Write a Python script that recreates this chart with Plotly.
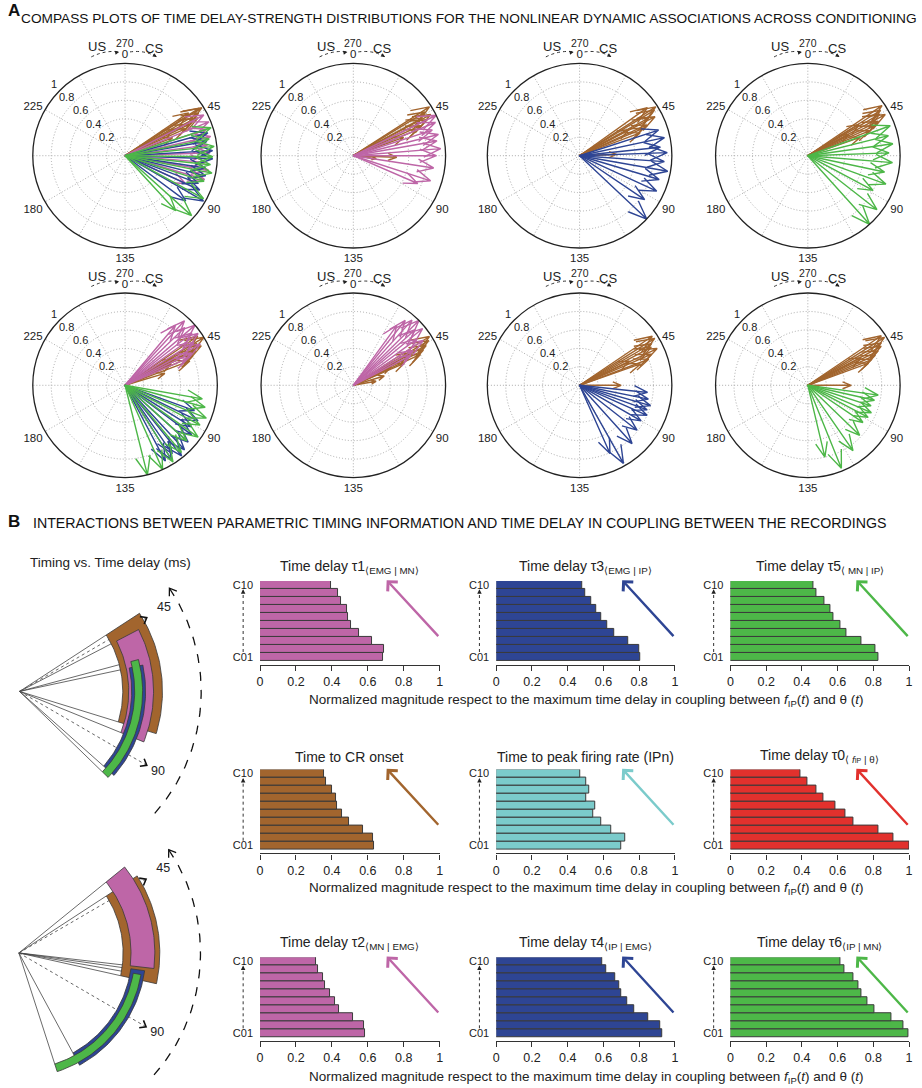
import numpy as np
import plotly.graph_objects as go

W, H = 922, 1088
FONT = "Liberation Sans, Arial, sans-serif"

BROWN = "#A2652E"
PINK = "#BE66A7"
BLUE = "#2E4594"
GREEN = "#4DB748"
CYAN = "#7BCBCB"
RED = "#E2312D"

# ---------------- A: compass plots ----------------
# angle in compass units (270 units = full turn, 0 at top, clockwise), magnitude 0..1
p1_brown_ang = [42, 43.5, 45, 46.5, 47, 48, 49.5, 43, 46, 52]
p1_brown_mag = [0.83, 0.98, 0.92, 0.86, 0.89, 0.78, 0.72, 0.95, 0.6, 0.55]
p1_pink_ang = [47, 51, 54, 58, 62, 66, 71, 75, 80, 86]
p1_pink_mag = [0.96, 0.98, 0.93, 0.95, 0.9, 0.92, 0.88, 0.92, 0.9, 0.72]
p1_blue_ang = [56, 60, 65, 69, 74, 78, 83, 86, 90, 95]
p1_blue_mag = [0.93, 0.9, 0.95, 0.95, 0.88, 0.9, 0.85, 0.89, 0.98, 0.82]
p1_green_ang = [54, 59, 63, 68, 72, 76, 81, 89, 99, 103]
p1_green_mag = [0.98, 0.93, 0.97, 0.95, 0.93, 0.96, 0.9, 0.97, 0.97, 0.81]

p2_brown_ang = [43, 44, 46.5, 48, 49.5, 51, 52.5, 46, 69, 73]
p2_brown_mag = [0.98, 0.91, 0.95, 0.89, 0.8, 0.75, 0.58, 0.85, 0.47, 0.25]
p2_pink_ang = [48, 51, 54, 57, 60, 64, 67.5, 74, 81, 85]
p2_pink_mag = [1.0, 0.96, 0.9, 0.95, 0.92, 0.95, 0.9, 0.88, 0.88, 0.76]

p3_brown_ang = [41, 43, 44, 46, 47, 49, 50, 52, 46.5, 66]
p3_brown_mag = [0.9, 0.98, 0.95, 0.85, 0.92, 0.8, 0.75, 0.7, 0.6, 0.4]
p3_blue_ang = [54, 58.5, 63, 66, 70.5, 75, 80, 86, 93, 100]
p3_blue_mag = [0.9, 0.94, 0.88, 0.95, 0.92, 0.97, 0.9, 0.92, 0.85, 1.0]

p4_brown_ang = [42, 43.5, 45, 46.5, 48, 49.5, 51, 44, 53, 47]
p4_brown_mag = [0.97, 0.93, 0.9, 0.95, 0.85, 0.8, 0.72, 0.65, 0.6, 0.5]
p4_green_ang = [52.5, 57, 61.5, 66, 71, 76.5, 82.5, 88.5, 96, 103.5]
p4_green_mag = [0.95, 0.9, 0.93, 0.88, 0.92, 0.85, 0.9, 0.8, 0.95, 1.0]

p5_brown_ang = [42, 44, 45, 47, 48, 50, 52, 46, 49, 55]
p5_brown_mag = [0.95, 1.0, 0.9, 0.93, 0.85, 0.8, 0.75, 0.6, 0.55, 0.45]
p5_pink_ang = [30, 32, 34.5, 37, 39, 41, 43.5, 46, 48, 50]
p5_pink_mag = [0.85, 0.95, 0.9, 1.0, 0.92, 0.97, 0.88, 0.93, 0.8, 0.75]
p5_blue_ang = [82.5, 87, 91.5, 95, 99, 103, 106, 109, 111, 114]
p5_blue_mag = [0.8, 0.88, 0.85, 0.9, 0.92, 0.95, 0.98, 0.9, 0.95, 0.93]
p5_green_ang = [75, 79, 84, 88.5, 94, 99, 105, 111, 117, 124.5]
p5_green_mag = [0.85, 0.9, 0.95, 0.92, 0.97, 0.9, 0.95, 0.98, 1.0, 1.0]

p6_brown_ang = [43, 44.5, 46, 47.5, 49, 45, 50, 48, 55, 60]
p6_brown_mag = [0.98, 0.95, 0.9, 0.85, 0.8, 0.7, 0.6, 0.45, 0.35, 0.25]
p6_pink_ang = [27, 29, 31.5, 34, 36, 38, 40.5, 43, 45, 47]
p6_pink_mag = [0.8, 0.9, 0.95, 1.0, 0.9, 0.97, 0.85, 0.9, 0.75, 0.7]

p7_brown_ang = [42, 43.5, 45, 46.5, 48.5, 50, 52, 53, 48, 67.5]
p7_brown_mag = [0.95, 0.96, 0.9, 0.88, 0.93, 0.85, 0.8, 0.7, 0.6, 0.45]
p7_blue_ang = [72, 76, 79.5, 82.5, 85.5, 90, 96, 103.5, 113, 117]
p7_blue_mag = [0.74, 0.76, 0.8, 0.78, 0.8, 0.77, 0.79, 0.85, 0.97, 0.81]

p8_brown_ang = [42, 43.5, 45, 46.5, 48, 49.5, 51, 52.5, 47, 67.5]
p8_brown_mag = [0.96, 0.98, 0.92, 0.9, 0.85, 0.8, 0.75, 0.7, 0.65, 0.47]
p8_green_ang = [73.5, 77, 81, 85, 88.5, 93, 100.5, 109, 118.5, 125]
p8_green_mag = [0.77, 0.74, 0.72, 0.75, 0.74, 0.72, 0.78, 0.86, 0.97, 0.8]

compass_ticks = [0, 45, 90, 135, 180, 225]
radial_ticks = [0.2, 0.4, 0.6, 0.8, 1.0]
radial_ticktext = ["0.2", "0.4", "0.6", "0.8", "1"]

# ---------------- B: timing vs time delay fans ----------------
# bands: start/end angle (compass units), inner/outer radius (px units)
fan1_colors = [BROWN, PINK, BLUE, GREEN]
fan1_start = [42.8, 47.0, 58.5, 56.3]
fan1_end = [80.3, 84.0, 98.6, 100.5]
fan1_rin = [104, 110, 113, 116]
fan1_rout = [144, 135, 127, 124]

fan2_colors = [BROWN, PINK, BLUE, GREEN]
fan2_start = [42.8, 38.3, 73.5, 75.0]
fan2_end = [76.9, 72.4, 113.6, 121.5]
fan2_rin = [105, 113, 114, 117]
fan2_rout = [142, 137, 128, 125]

# ---------------- B: bar charts ----------------
sessions = ["C01", "C02", "C03", "C04", "C05", "C06", "C07", "C08", "C09", "C10"]
tau1 = [0.683, 0.688, 0.625, 0.553, 0.506, 0.489, 0.483, 0.45, 0.434, 0.395]
tau3 = [0.808, 0.802, 0.738, 0.66, 0.619, 0.586, 0.562, 0.534, 0.497, 0.479]
tau5 = [0.828, 0.812, 0.732, 0.649, 0.613, 0.579, 0.561, 0.526, 0.483, 0.465]
cr_onset = [0.633, 0.627, 0.572, 0.494, 0.458, 0.43, 0.421, 0.4, 0.367, 0.354]
ipn_peak = [0.701, 0.723, 0.641, 0.59, 0.543, 0.555, 0.506, 0.52, 0.501, 0.469]
tau0 = [1.0, 0.911, 0.83, 0.69, 0.642, 0.589, 0.52, 0.48, 0.432, 0.391]
tau2 = [0.587, 0.581, 0.52, 0.439, 0.419, 0.387, 0.363, 0.351, 0.321, 0.314]
tau4 = [0.932, 0.918, 0.852, 0.774, 0.734, 0.701, 0.686, 0.664, 0.614, 0.595]
tau6 = [0.996, 0.969, 0.899, 0.806, 0.766, 0.736, 0.718, 0.69, 0.64, 0.613]
x_ticks = [0, 0.2, 0.4, 0.6, 0.8, 1]
x_ticktext = ["0", "0.2", "0.4", "0.6", "0.8", "1"]


def px(x):
    return x / W


def py(y):
    return 1 - y / H


def to_screen(units):
    return np.asarray(units, dtype=float) * 360.0 / 270.0


def compass_trace(ang, mag, color, subplot):
    # MATLAB-like compass arrows: shaft + two head strokes
    r, th = [], []
    hr = np.hypot(0.8, 0.08)
    hd = np.degrees(np.arctan2(0.08, 0.8))
    for a, m in zip(to_screen(ang), mag):
        r += [0, m, hr * m, m, hr * m, None]
        th += [a, a, a + hd, a, a - hd, None]
    return go.Scatterpolar(r=r, theta=th, mode="lines", subplot=subplot,
                           line=dict(color=color, width=1.4), connectgaps=False,
                           hoverinfo="skip")


def P(xx, yy, **kw):
    d = dict(x=px(xx), y=py(yy), xref="paper", yref="paper", showarrow=False,
             xanchor="center", yanchor="middle")
    d.update(kw)
    return d


fig = go.Figure()
layout = dict()
annotations = []
shapes = []

panels = [
    (123, 154, [(p1_brown_ang, p1_brown_mag, BROWN), (p1_pink_ang, p1_pink_mag, PINK),
                (p1_blue_ang, p1_blue_mag, BLUE), (p1_green_ang, p1_green_mag, GREEN)]),
    (353, 154, [(p2_brown_ang, p2_brown_mag, BROWN), (p2_pink_ang, p2_pink_mag, PINK)]),
    (581, 154, [(p3_brown_ang, p3_brown_mag, BROWN), (p3_blue_ang, p3_blue_mag, BLUE)]),
    (811, 154, [(p4_brown_ang, p4_brown_mag, BROWN), (p4_green_ang, p4_green_mag, GREEN)]),
    (123, 384, [(p5_brown_ang, p5_brown_mag, BROWN), (p5_pink_ang, p5_pink_mag, PINK),
                (p5_blue_ang, p5_blue_mag, BLUE), (p5_green_ang, p5_green_mag, GREEN)]),
    (353, 384, [(p6_brown_ang, p6_brown_mag, BROWN), (p6_pink_ang, p6_pink_mag, PINK)]),
    (581, 384, [(p7_brown_ang, p7_brown_mag, BROWN), (p7_blue_ang, p7_blue_mag, BLUE)]),
    (811, 384, [(p8_brown_ang, p8_brown_mag, BROWN), (p8_green_ang, p8_green_mag, GREEN)]),
]

R = 93
GRID = "#ababab"
DOT = "1px,2px"
spoke_r, spoke_t = [], []
for t in range(30, 180, 60):
    spoke_r += [1, 0, 1, None]
    spoke_t += [t, t, t + 180, None]

for i, (cx, cy, series) in enumerate(panels):
    name = "polar" if i == 0 else f"polar{i + 1}"
    # unlabeled dotted spokes every 30 screen degrees
    fig.add_trace(go.Scatterpolar(r=spoke_r, theta=spoke_t, mode="lines", subplot=name,
                                  line=dict(color=GRID, width=1, dash=DOT), hoverinfo="skip"))
    for ang, mag, col in series:
        fig.add_trace(compass_trace(ang, mag, col, name))
    layout[name] = dict(
        domain=dict(x=[px(cx - R), px(cx + R)], y=[py(cy + R), py(cy - R)]),
        bgcolor="white",
        angularaxis=dict(rotation=90, direction="clockwise", thetaunit="degrees",
                         tickmode="array", tickvals=to_screen(compass_ticks).tolist(),
                         ticktext=[str(t) for t in compass_ticks], showline=True,
                         linecolor="#222", linewidth=1.3, gridcolor=GRID, griddash=DOT,
                         ticks="", tickfont=dict(size=11.5, color="#222")),
        radialaxis=dict(range=[0, 1], tickmode="array", tickvals=radial_ticks,
                        showticklabels=False, showline=False, ticks="", gridcolor=GRID,
                        griddash=DOT),
    )
    # radial labels along the upper-left diagonal, just outside each circle
    for v, txt in zip(radial_ticks, radial_ticktext):
        d = (v + 0.09) * R / np.sqrt(2)
        annotations.append(P(cx - d, cy - d, text=txt, font=dict(size=11, color="#222")))
    # US -> 270/0 -> CS marker above each compass
    annotations += [
        P(cx - 28, cy - 109, text="US", font=dict(size=13, color="#222")),
        P(cx, cy - 113, text="270", font=dict(size=10.5, color="#222")),
        P(cx + 29, cy - 107, text="CS", font=dict(size=13, color="#222")),
        P(cx - 6, cy - 104, ax=-5, ay=1, text="", showarrow=True, arrowhead=2,
          arrowsize=0.8, arrowwidth=1, arrowcolor="#222"),
        P(cx + 32, cy - 99, ax=-5, ay=-3, text="", showarrow=True, arrowhead=2,
          arrowsize=0.8, arrowwidth=1, arrowcolor="#222"),
    ]
    shapes += [
        dict(type="path", xref="paper", yref="paper",
             path=f"M {px(cx - 34)},{py(cy - 99)} Q {px(cx - 20)},{py(cy - 106)} {px(cx - 6)},{py(cy - 104)}",
             line=dict(color="#333", width=1, dash="dot")),
        dict(type="path", xref="paper", yref="paper",
             path=f"M {px(cx + 5)},{py(cy - 104)} Q {px(cx + 20)},{py(cy - 106)} {px(cx + 32)},{py(cy - 99)}",
             line=dict(color="#333", width=1, dash="dot")),
    ]


# ---------------- fans (cartesian, 1 unit = 1 px) ----------------
def to_xy(units, r):
    phi = np.deg2rad(90 - np.asarray(units, dtype=float) * 4 / 3)
    return r * np.cos(phi), r * np.sin(phi)


def chevron(tx, ty, direction, size=7.0, spread=38):
    xs, ys = [], []
    for s in (1, -1):
        a = direction + np.pi + s * np.deg2rad(spread)
        xs.append(tx + size * np.cos(a))
        ys.append(ty + size * np.sin(a))
    return [xs[0], tx, xs[1], None], [ys[0], ty, ys[1], None]


fans = [
    (10, 16.7, 690.7, 556, 825, fan1_colors, fan1_start, fan1_end, fan1_rin, fan1_rout),
    (11, 16.0, 952.7, 830, 1088, fan2_colors, fan2_start, fan2_end, fan2_rin, fan2_rout),
]
for k, cx, cy, top, bot, cols, st, en, rin, rout in fans:
    xa, ya = f"x{k}", f"y{k}"
    sx, sy = [], []
    for s0, e0, ri in zip(st, en, rin):
        for u in (s0, e0):
            x1, y1 = to_xy(u, ri)
            sx += [0, x1, None]
            sy += [0, y1, None]
    fig.add_trace(go.Scatter(x=sx, y=sy, mode="lines", xaxis=xa, yaxis=ya,
                             line=dict(color="#444", width=0.8), hoverinfo="skip"))
    mx, my, hx, hy = [], [], [], []
    for u in (45, 90):
        x1, y1 = to_xy(u, 148)
        mx += [0, x1, None]
        my += [0, y1, None]
        cxv, cyv = chevron(x1, y1, np.deg2rad(90 - u * 4 / 3), size=7)
        hx += cxv
        hy += cyv
    fig.add_trace(go.Scatter(x=mx, y=my, mode="lines", xaxis=xa, yaxis=ya,
                             line=dict(color="#555", width=0.9, dash="dot"), hoverinfo="skip"))
    for c, s0, e0, ri, ro in zip(cols, st, en, rin, rout):
        u = np.linspace(s0, e0, 50)
        xo, yo = to_xy(u, ro)
        xi, yi = to_xy(u[::-1], ri)
        bx = np.concatenate([xo, xi, xo[:1]])
        by = np.concatenate([yo, yi, yo[:1]])
        fig.add_trace(go.Scatter(x=bx, y=by, mode="lines", fill="toself", fillcolor=c,
                                 xaxis=xa, yaxis=ya, line=dict(color="#3a3a3a", width=0.8),
                                 hoverinfo="skip"))
    fig.add_trace(go.Scatter(x=hx, y=hy, mode="lines", xaxis=xa, yaxis=ya,
                             line=dict(color="#111", width=1.6), hoverinfo="skip"))
    u = np.linspace(41.7, 100.5, 80)
    ax_, ay_ = to_xy(u, 183)
    fig.add_trace(go.Scatter(x=ax_, y=ay_, mode="lines", xaxis=xa, yaxis=ya,
                             line=dict(color="#111", width=1.3, dash="dash"), hoverinfo="skip"))
    phi0 = np.deg2rad(90 - 41.7 * 4 / 3)
    cxv, cyv = chevron(ax_[0], ay_[0], phi0 + np.pi / 2, size=8, spread=35)
    fig.add_trace(go.Scatter(x=cxv, y=cyv, mode="lines", xaxis=xa, yaxis=ya,
                             line=dict(color="#111", width=1.3), hoverinfo="skip"))
    lx, ly = to_xy([45, 90], np.array([168, 161]))
    fig.add_trace(go.Scatter(x=lx, y=ly, mode="text", text=["45", "90"], xaxis=xa, yaxis=ya,
                             textfont=dict(size=12.5, color="#222"), hoverinfo="skip"))
    layout[f"xaxis{k}"] = dict(domain=[px(0), px(230)], range=[-cx, 230 - cx], visible=False,
                               anchor=ya)
    layout[f"yaxis{k}"] = dict(domain=[py(bot), py(top)], range=[-(bot - cy), cy - top],
                               visible=False, anchor=xa)

annotations.append(P(108, 562, text="Timing vs. Time delay (ms)",
                     font=dict(size=13.5, color="#222")))

# ---------------- bar charts ----------------
col_x = [(259, 440), (497, 677), (733, 913)]
row_y = [(580, 664), (769, 853), (957, 1041)]
bar_charts = [
    (tau1, PINK, "Time delay τ1<sub>⟨EMG | MN⟩</sub>", 0, 0),
    (tau3, BLUE, "Time delay τ3<sub>⟨EMG | IP⟩</sub>", 0, 1),
    (tau5, GREEN, "Time delay τ5<sub>⟨ MN | IP⟩</sub>", 0, 2),
    (cr_onset, BROWN, "Time to CR onset", 1, 0),
    (ipn_peak, CYAN, "Time to peak firing rate (IPn)", 1, 1),
    (tau0, RED, "Time delay τ0<sub>⟨ <i>f</i><span style='font-size:7px'>IP</span> | θ⟩</sub>", 1, 2),
    (tau2, PINK, "Time delay τ2<sub>⟨MN | EMG⟩</sub>", 2, 0),
    (tau4, BLUE, "Time delay τ4<sub>⟨IP | EMG⟩</sub>", 2, 1),
    (tau6, GREEN, "Time delay τ6<sub>⟨IP | MN⟩</sub>", 2, 2),
]

for n, (vals, col, title, r, c) in enumerate(bar_charts, start=1):
    xa, ya = (f"x{n}", f"y{n}") if n > 1 else ("x", "y")
    xk, yk = (f"xaxis{n}", f"yaxis{n}") if n > 1 else ("xaxis", "yaxis")
    fig.add_trace(go.Bar(x=vals, y=sessions, orientation="h", xaxis=xa, yaxis=ya,
                         marker=dict(color=col, line=dict(color="#3a3a3a", width=1)),
                         hoverinfo="skip"))
    x0, x1 = col_x[c]
    y0, y1 = row_y[r]
    layout[xk] = dict(domain=[px(x0), px(x1)], range=[0, 1], anchor=ya, showgrid=False,
                      zeroline=False, showline=True, linecolor="#333", linewidth=1.2,
                      ticks="outside", ticklen=5, tickcolor="#333", tickmode="array",
                      tickvals=x_ticks, ticktext=x_ticktext,
                      tickfont=dict(size=12.5, color="#222"))
    layout[yk] = dict(domain=[py(y1), py(y0)], range=[-1.0, 9.5], anchor=xa, type="category",
                      categoryorder="array", categoryarray=sessions, showgrid=False,
                      zeroline=False, showline=False, ticks="", tickmode="array",
                      tickvals=["C01", "C10"], ticktext=["C01", "C10"],
                      ticklabelstandoff=6, tickfont=dict(size=11, color="#222"))
    annotations.append(dict(xref=f"{xa} domain", yref=f"{ya} domain", x=0.5, y=1, yshift=3,
                            xanchor="center", yanchor="bottom", text=title, showarrow=False,
                            font=dict(size=14, color="#222")))
    annotations.append(dict(xref=xa, yref=ya, axref=xa, ayref=ya, x=0.705, y=9.6,
                            ax=1.0, ay=2.4, text="", showarrow=True, arrowhead=4,
                            arrowsize=1.1, arrowwidth=2.4, arrowcolor=col))
    # dotted C01 -> C10 arrow left of the bars
    shapes.append(dict(type="line", xref=f"{xa} domain", yref=ya, x0=-0.094, x1=-0.094,
                       y0=0.6, y1=8.1, line=dict(color="#333", width=1, dash="dot")))
    annotations.append(dict(xref=f"{xa} domain", yref=ya, x=-0.094, y=8.45, ax=0, ay=4,
                            text="", showarrow=True, arrowhead=2, arrowsize=0.9,
                            arrowwidth=1, arrowcolor="#222"))

xlab = ("Normalized magnitude respect to the maximum time delay in coupling between "
        "<i>f</i><sub>IP</sub>(<i>t</i>) and θ (<i>t</i>)")
for yy in (700, 888, 1077):
    annotations.append(P(588, yy, text=xlab, font=dict(size=13.5, color="#222")))

annotations += [
    P(3, 9, text="<b>A</b>", xanchor="left", font=dict(size=17, color="#111")),
    P(16, 17, text="COMPASS PLOTS OF TIME DELAY-STRENGTH DISTRIBUTIONS FOR THE "
      "NONLINEAR DYNAMIC ASSOCIATIONS ACROSS CONDITIONING", xanchor="left",
      font=dict(size=13.7, color="#111")),
    P(3, 520, text="<b>B</b>", xanchor="left", font=dict(size=17, color="#111")),
    P(460, 522, text="INTERACTIONS BETWEEN PARAMETRIC TIMING INFORMATION AND "
      "TIME DELAY IN COUPLING BETWEEN THE RECORDINGS", font=dict(size=14.2, color="#111")),
]

fig.update_layout(**layout)
fig.update_layout(
    width=W, height=H, margin=dict(l=0, r=0, t=0, b=0),
    paper_bgcolor="white", plot_bgcolor="rgba(0,0,0,0)",
    showlegend=False, bargap=0,
    font=dict(family=FONT, color="#222"),
    annotations=annotations, shapes=shapes,
)

fig.write_html("out.html", config={"displayModeBar": False},
               post_script="document.body.style.margin='0px';")
